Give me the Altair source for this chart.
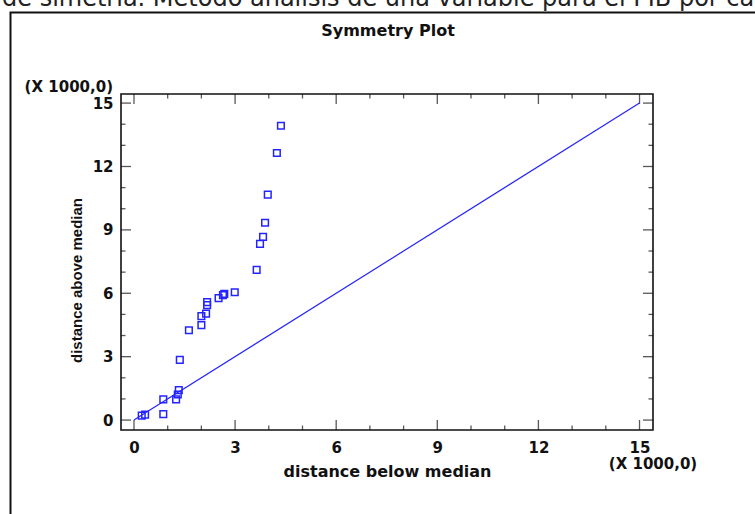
import altair as alt
import pandas as pd

# Symmetry plot: distance of each observation below vs. above the median (x 1000)
dist_below = [0.23, 0.33, 0.87, 0.87, 1.25, 1.30, 1.33, 1.36, 1.63, 2.00, 2.00, 2.14,
              2.17, 2.17, 2.51, 2.64, 2.68, 2.99, 3.64, 3.74, 3.83, 3.89, 3.97, 4.24, 4.36]
dist_above = [0.21, 0.26, 0.28, 0.98, 0.98, 1.21, 1.42, 2.85, 4.25, 4.49, 4.92, 5.04,
              5.44, 5.58, 5.77, 5.91, 5.97, 6.05, 7.11, 8.34, 8.67, 9.34, 10.67, 12.64, 13.93]

# reference line of perfect symmetry
ref_line = [0, 15]

major_ticks = [0, 3, 6, 9, 12, 15]
minor_ticks = [v for v in range(0, 16) if v % 3 != 0]

W, H = 532, 336
BLUE = "#2424ff"
FONT_H = "DejaVu Sans"
FONT_V = "Liberation Sans"

xscale = alt.Scale(domain=[-0.385, 15.4], nice=False, zero=False)
yscale = alt.Scale(domain=[-0.47, 15.43], nice=False, zero=False)

xaxis = alt.Axis(values=major_ticks, format="d", ticks=False, domain=False, grid=False,
                 labelFont=FONT_H, labelFontSize=15, labelFontWeight="bold",
                 labelColor="#111", labelPadding=10,
                 title="distance below median", titleFont=FONT_H, titleFontSize=16,
                 titleFontWeight="bold", titleColor="#111",
                 titleBaseline="alphabetic", titleY=46)
yaxis = alt.Axis(values=major_ticks, format="d", ticks=False, domain=False, grid=False,
                 labelFont=FONT_H, labelFontSize=15, labelFontWeight="bold",
                 labelColor="#111", labelPadding=8,
                 title="distance above median", titleFont=FONT_V, titleFontSize=15,
                 titleFontWeight="bold", titleColor="#111", titleAngle=270,
                 titleAlign="center", titleBaseline="alphabetic",
                 titleX=-40, titleY=186)

pts = pd.DataFrame({"below": dist_below, "above": dist_above})
line_df = pd.DataFrame({"below": ref_line, "above": ref_line})
ticks_df = pd.DataFrame({
    "v": major_ticks + minor_ticks,
    "len": [20] * len(major_ticks) + [9] * len(minor_ticks),
})

points = alt.Chart(pts).mark_point(
    shape="square", filled=False, size=44, strokeWidth=1.5, color=BLUE, opacity=1
).encode(
    x=alt.X("below:Q", scale=xscale, axis=xaxis),
    y=alt.Y("above:Q", scale=yscale, axis=yaxis),
)

diag = alt.Chart(line_df).mark_line(color=BLUE, strokeWidth=1.2).encode(
    x=alt.X("below:Q", scale=xscale, axis=xaxis),
    y=alt.Y("above:Q", scale=yscale, axis=yaxis),
)

# inward-pointing ticks on all four sides (outer halves clipped by the plot area)
tick_common = dict(clip=True, color="#111", thickness=1.3)
x_bottom = alt.Chart(ticks_df).mark_tick(orient="vertical", **tick_common).encode(
    x=alt.X("v:Q", scale=xscale, axis=xaxis), y=alt.value(H),
    size=alt.Size("len:Q", scale=None, legend=None))
x_top = alt.Chart(ticks_df).mark_tick(orient="vertical", **tick_common).encode(
    x=alt.X("v:Q", scale=xscale, axis=xaxis), y=alt.value(0),
    size=alt.Size("len:Q", scale=None, legend=None))
y_left = alt.Chart(ticks_df).mark_tick(orient="horizontal", **tick_common).encode(
    y=alt.Y("v:Q", scale=yscale, axis=yaxis), x=alt.value(0),
    size=alt.Size("len:Q", scale=None, legend=None))
y_right = alt.Chart(ticks_df).mark_tick(orient="horizontal", **tick_common).encode(
    y=alt.Y("v:Q", scale=yscale, axis=yaxis), x=alt.value(W),
    size=alt.Size("len:Q", scale=None, legend=None))

txt = dict(font=FONT_H, fontWeight="bold", color="#111")
title = alt.Chart(pd.DataFrame({"t": ["Symmetry Plot"]})).mark_text(
    fontSize=16, align="center", baseline="alphabetic", **txt
).encode(text="t:N", x=alt.value(W / 2 + 1), y=alt.value(-58))
y_unit = alt.Chart(pd.DataFrame({"t": ["(X 1000,0)"]})).mark_text(
    fontSize=15, align="right", baseline="alphabetic", **txt
).encode(text="t:N", x=alt.value(-8), y=alt.value(-2))
x_unit = alt.Chart(pd.DataFrame({"t": ["(X 1000,0)"]})).mark_text(
    fontSize=15, align="center", baseline="alphabetic", **txt
).encode(text="t:N", x=alt.value(W), y=alt.value(H + 39))

# caption line of the surrounding document, running off the top edge
caption = alt.Chart(pd.DataFrame({"t": [
    "de simetría. Método análisis de una variable para el PIB por cápita"]})).mark_text(
    font=FONT_H, fontSize=24, align="left", baseline="alphabetic", color="#222"
).encode(text="t:N", x=alt.value(-119), y=alt.value(-88))

# outer frame around the figure
frame = alt.Chart(pd.DataFrame({"k": [0]})).mark_rect(
    fill=None, stroke="#111", strokeWidth=2
).encode(x=alt.value(-110.5), y=alt.value(-81.5), x2=alt.value(W + 200), y2=alt.value(H + 200))

chart = alt.layer(
    frame, x_bottom, x_top, y_left, y_right, diag, points, title, y_unit, x_unit, caption
).properties(
    width=W, height=H,
    autosize=alt.AutoSizeParams(type="none"),
    padding={"left": 121, "top": 94, "right": 102, "bottom": 84},
    background="white",
).configure_view(stroke="#111", strokeWidth=1.6)

chart.save("out.html", embed_options={"renderer": "svg", "actions": False})
